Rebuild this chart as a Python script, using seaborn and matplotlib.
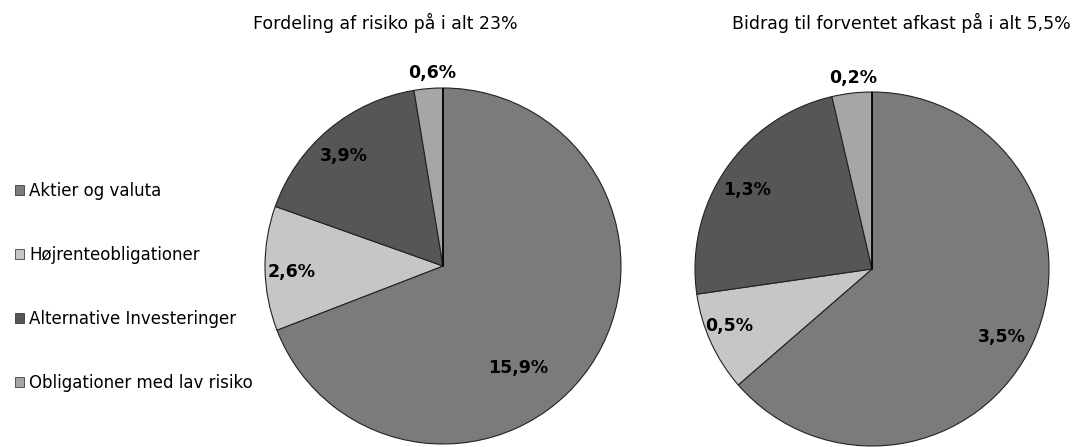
import numpy as np
import matplotlib
matplotlib.use("Agg")
import matplotlib.pyplot as plt
import seaborn as sns
from matplotlib.patches import Patch

# Data
kategorier = ["Aktier og valuta", "Højrenteobligationer",
              "Alternative Investeringer", "Obligationer med lav risiko"]
risiko = [15.9, 2.6, 3.9, 0.6]
afkast = [3.5, 0.5, 1.3, 0.2]
titel_risiko = "Fordeling af risiko på i alt 23%"
titel_afkast = "Bidrag til forventet afkast på i alt 5,5%"

sns.set_theme(style="white")
plt.rcParams['font.family'] = ['DejaVu Sans']

farver = ["#7b7b7b", "#c6c6c6", "#565656", "#a6a6a6"]

fig = plt.figure(figsize=(10.77, 4.47), dpi=100)
ax1 = fig.add_axes([265 / 1077, 3 / 447, 356 / 1077, 356 / 447])
ax2 = fig.add_axes([695 / 1077, 1 / 447, 354 / 1077, 354 / 447])


def tegn_pie(ax, values, label_r, label_dang):
    wedges, _ = ax.pie(values, colors=farver, startangle=90, counterclock=False,
                       radius=1.0,
                       wedgeprops=dict(edgecolor="#222222", linewidth=0.8))
    for w, v, r, da in zip(wedges, values, label_r, label_dang):
        ang = np.deg2rad((w.theta1 + w.theta2) / 2 + da)
        txt = f"{v:.1f}%".replace(".", ",")
        ax.text(r * np.cos(ang), r * np.sin(ang), txt, ha="center", va="center",
                fontsize=12.5, fontweight="bold", color="black", clip_on=False)
    # lodret skillelinje kl. 12
    ax.plot([0, 0], [0, 1], color="black", lw=1.2)
    ax.set_xlim(-1, 1)
    ax.set_ylim(-1, 1)
    ax.set_aspect("equal")
    ax.axis("off")


tegn_pie(ax1, risiko, [0.71, 0.85, 0.83, 1.085], [-19, 1.5, 2, -1.5])
tegn_pie(ax2, afkast, [0.83, 0.87, 0.835, 1.085], [-3, -3, 2, -1])

fig.text(385 / 1077, 1 - 23 / 447, titel_risiko, ha="center", va="center",
         fontsize=12.5, color="black")
fig.text(901 / 1077, 1 - 23 / 447, titel_afkast, ha="center", va="center",
         fontsize=12.5, color="black")

handles = [Patch(facecolor=c, edgecolor="#222222", linewidth=0.5) for c in farver]
fig.legend(handles, kategorier, loc="center left", bbox_to_anchor=(0 / 1077, 1 - 287 / 447),
           frameon=False, fontsize=12, labelspacing=2.75, handlelength=0.55,
           handleheight=0.55, handletextpad=0.3, labelcolor="black")

plt.savefig("out.png", dpi=100)
